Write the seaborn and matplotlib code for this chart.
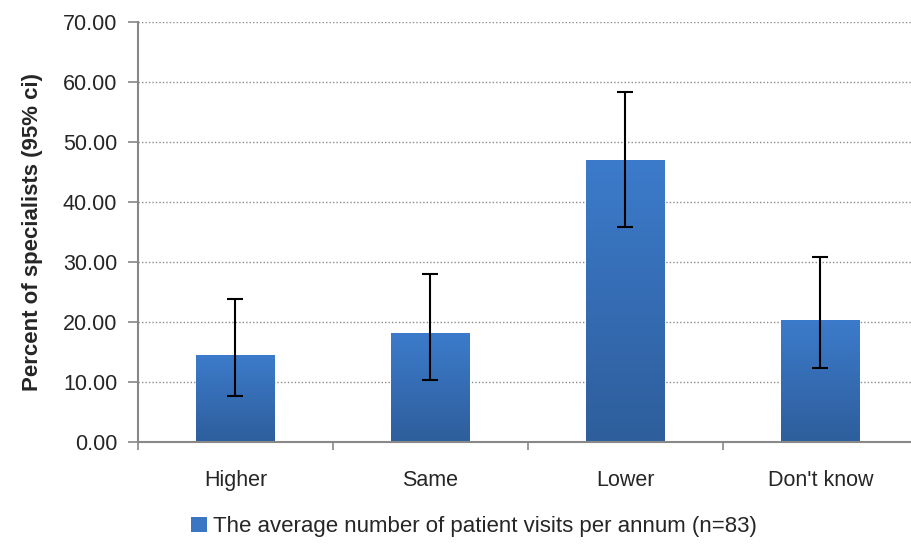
import matplotlib
matplotlib.use("Agg")
import matplotlib.pyplot as plt
from matplotlib.patches import Patch
from matplotlib.colors import LinearSegmentedColormap
import numpy as np
import pandas as pd
import seaborn as sns

# data
categories = ["Higher", "Same", "Lower", "Don't know"]
percent = [14.5, 18.1, 47.0, 20.4]
ci_low = [7.6, 10.4, 35.9, 12.3]
ci_high = [23.9, 28.0, 58.3, 30.8]
series_name = "The average number of patient visits per annum (n=83)"

df = pd.DataFrame({"category": categories, "percent": percent})

sns.set_theme(style="white")
plt.rcParams["font.family"] = ["Liberation Sans Narrow", "Liberation Sans", "DejaVu Sans"]

fig = plt.figure(figsize=(9.12, 5.46), dpi=100)
ax = fig.add_axes([0.1513, 0.1905, 0.855, 0.7692])

sns.barplot(data=df, x="category", y="percent", color="#3A76C4",
            width=0.405, ax=ax, errorbar=None, saturation=1)

# vertical gradient inside the bars
cmap = LinearSegmentedColormap.from_list("bar", ["#2E5E9C", "#3C7BCB"])
grad = np.linspace(0, 1, 256).reshape(-1, 1)
for p in ax.patches:
    x0, y0 = p.get_x(), p.get_y()
    w, h = p.get_width(), p.get_height()
    im = ax.imshow(grad, cmap=cmap, origin="lower", aspect="auto",
                   extent=[x0, x0 + w, y0, y0 + h], zorder=2)
    im.set_clip_path(p)
    p.set_facecolor("none")
    p.set_edgecolor("none")

# 95% ci error bars
x = np.arange(len(categories))
yerr = [np.array(percent) - np.array(ci_low), np.array(ci_high) - np.array(percent)]
ax.errorbar(x, percent, yerr=yerr, fmt="none", ecolor="black",
            elinewidth=1.5, capsize=6, capthick=1.5, zorder=3)

ax.set_xlim(-0.5, len(categories) - 0.5)
ax.set_ylim(0, 70)
ax.set_yticks(np.arange(0, 71, 10))
ax.set_yticklabels([f"{v:.2f}" for v in np.arange(0, 71, 10)])
ax.yaxis.grid(True, linestyle=(0, (1, 1.5)), color="#8c8c8c", linewidth=1)
ax.set_axisbelow(True)

ax.set_xticks(np.arange(-0.5, len(categories), 1.0), minor=True)
ax.tick_params(axis="x", which="major", length=0, pad=20, labelsize=15.5)
ax.tick_params(axis="x", which="minor", length=6, width=1.2, color="#888888", direction="out", bottom=True)
ax.tick_params(axis="y", which="major", length=7, width=1.2, color="#888888",
               direction="out", left=True, labelsize=15.5, pad=8)

for side in ["top", "right"]:
    ax.spines[side].set_visible(False)
for side in ["left", "bottom"]:
    ax.spines[side].set_color("#888888")
    ax.spines[side].set_linewidth(1.5)

ax.set_xlabel("")
ax.set_ylabel("Percent of specialists (95% ci)", fontsize=16, fontweight="bold", labelpad=14)

handle = Patch(facecolor="#3A76C4", edgecolor="none")
fig.legend([handle], [series_name], loc="center", bbox_to_anchor=(0.52, 0.035),
           frameon=False, fontsize=16, handlelength=0.7, handleheight=0.7,
           handletextpad=0.3)

fig.savefig("out.png", dpi=100)
